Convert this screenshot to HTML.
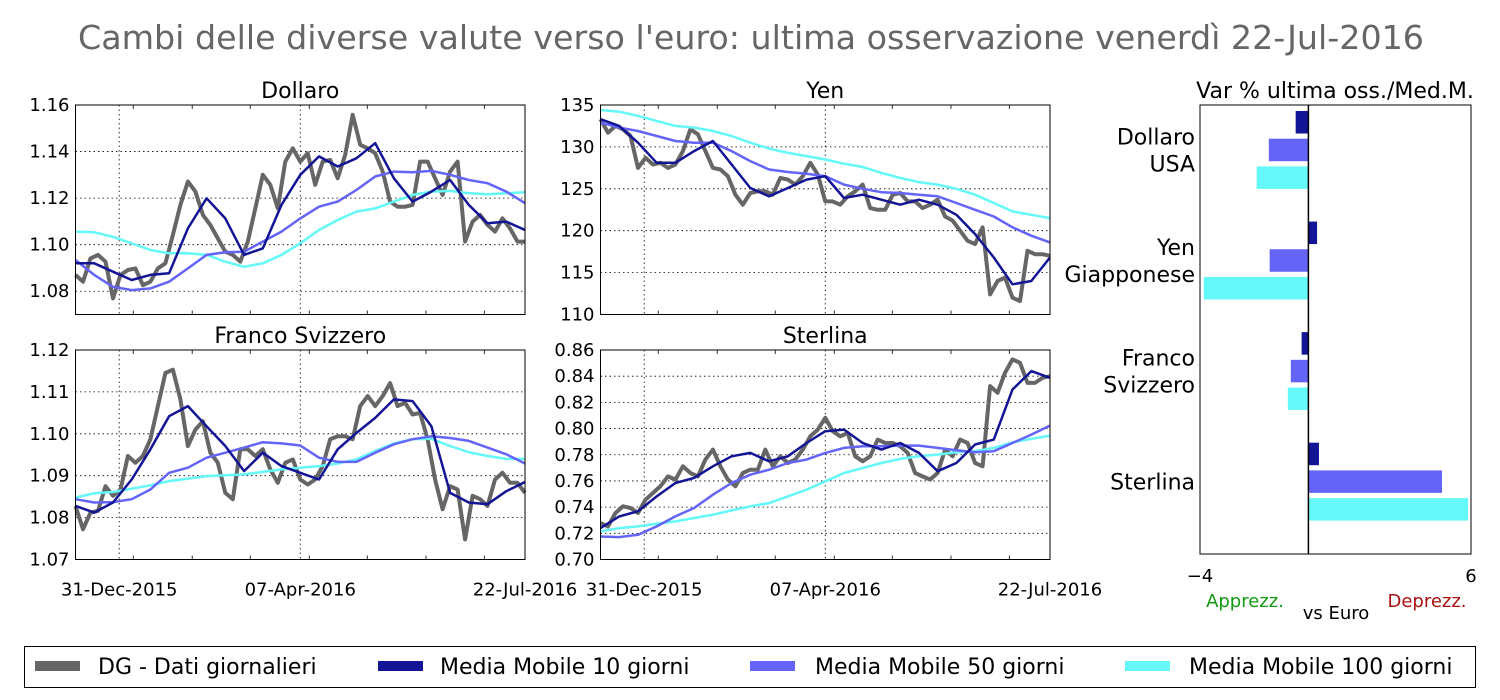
<!DOCTYPE html>
<html><head><meta charset="utf-8"><style>
html,body{margin:0;padding:0;background:#fff;}
svg{display:block;font-family:"DejaVu Sans","Liberation Sans",sans-serif;}
</style></head><body>
<svg id="chart" width="1500" height="700" viewBox="0 0 1500 700" xmlns="http://www.w3.org/2000/svg">
<text x="751" y="49" text-anchor="middle" font-size="33" fill="#666" textLength="1346" lengthAdjust="spacingAndGlyphs">Cambi delle diverse valute verso l'euro: ultima osservazione venerdì 22-Jul-2016</text>
<g id="panels"></g>
<g id="bars"></g>
<g>
<rect x="24.5" y="646.5" width="1451" height="41" fill="#fff" stroke="#000" stroke-width="1"/>
<rect x="35" y="661" width="45" height="10" fill="#666"/>
<text x="98" y="674" font-size="22">DG - Dati giornalieri</text>
<rect x="378" y="661" width="45" height="10" fill="#141496"/>
<text x="440" y="674" font-size="22">Media Mobile 10 giorni</text>
<rect x="750" y="661" width="45" height="10" fill="#6464f8"/>
<text x="815" y="674" font-size="22">Media Mobile 50 giorni</text>
<rect x="1125" y="661" width="45" height="10" fill="#64f8f8"/>
<text x="1189" y="674" font-size="22">Media Mobile 100 giorni</text>
</g>
</svg>
<script>
const NS="http://www.w3.org/2000/svg";
// ---- data ----
const usdDaily=[1.0870,1.0841,1.0941,1.0956,1.0927,1.0769,1.0870,1.0891,1.0898,1.0826,1.0841,1.0898,1.0920,1.1042,1.1171,1.1271,1.1228,1.1128,1.1085,1.1027,1.0970,1.0956,1.0927,1.1013,1.1156,1.1300,1.1257,1.1156,1.1357,1.1414,1.1357,1.1393,1.1257,1.1357,1.1364,1.1285,1.1386,1.1558,1.1429,1.1414,1.1393,1.1314,1.1185,1.1163,1.1163,1.1171,1.1357,1.1357,1.1285,1.1214,1.1314,1.1357,1.1013,1.1099,1.1128,1.1085,1.1056,1.1113,1.1070,1.1013,1.1013];
const usdMa10=[1.0920,1.0920,1.0884,1.0848,1.0870,1.0877,1.1070,1.1199,1.1113,1.0956,1.0984,1.1171,1.1300,1.1379,1.1336,1.1371,1.1436,1.1285,1.1185,1.1228,1.1278,1.1171,1.1092,1.1099,1.1063];
const usdMa50=[1.0934,1.0870,1.0819,1.0805,1.0812,1.0841,1.0898,1.0956,1.0967,1.0970,1.1013,1.1056,1.1113,1.1163,1.1185,1.1235,1.1293,1.1314,1.1311,1.1317,1.1300,1.1278,1.1264,1.1228,1.1178];
const usdMa100=[1.1056,1.1053,1.1034,1.1006,1.0977,1.0963,1.0963,1.0956,1.0927,1.0905,1.0920,1.0956,1.1006,1.1063,1.1106,1.1142,1.1156,1.1185,1.1214,1.1228,1.1231,1.1221,1.1217,1.1221,1.1225];
const jpyDaily=[133.3,131.7,132.5,132.1,131.3,127.5,128.7,127.9,128.1,127.5,127.9,129.5,132.1,131.5,129.5,127.5,127.3,126.5,124.3,123.1,124.5,124.7,124.7,124.3,126.3,126.1,125.5,126.5,128.1,126.7,123.5,123.5,123.1,124.1,124.7,125.5,122.7,122.5,122.5,124.3,124.5,123.5,123.5,122.7,123.1,123.7,121.7,121.2,120.0,118.8,118.4,120.4,112.4,114.0,114.4,112.0,111.6,117.6,117.2,117.2,117.0];
const jpyMa10=[133.3,132.5,130.5,128.1,128.1,129.5,130.7,127.9,125.1,124.1,125.1,126.1,126.5,123.9,124.3,123.7,123.1,123.7,123.1,121.9,119.6,116.8,113.6,114.0,116.8];
const jpyMa50=[132.9,132.3,131.9,131.3,130.7,130.5,130.5,129.5,128.3,127.3,127.0,126.8,126.5,125.5,125.0,124.6,124.5,124.3,124.1,123.3,122.5,121.7,120.4,119.4,118.6];
const jpyMa100=[134.4,134.2,133.7,133.1,132.5,132.3,131.9,131.3,130.5,129.8,129.3,128.9,128.5,128.0,127.6,126.9,126.3,125.8,125.5,125.0,124.3,123.3,122.3,121.9,121.5];
const chfDaily=[1.0828,1.0772,1.0812,1.0816,1.0875,1.0852,1.0867,1.0947,1.0931,1.0947,1.0987,1.1066,1.1145,1.1153,1.1082,1.0971,1.1010,1.1030,1.0955,1.0931,1.0859,1.0844,1.0963,1.0963,1.0947,1.0963,1.0915,1.0883,1.0931,1.0939,1.0891,1.0879,1.0891,1.0923,1.0987,1.0994,1.0994,1.0987,1.1066,1.1090,1.1066,1.1090,1.1121,1.1066,1.1074,1.1046,1.1050,1.0987,1.0891,1.0820,1.0875,1.0867,1.0748,1.0852,1.0844,1.0828,1.0891,1.0907,1.0883,1.0883,1.0859];
const chfMa10=[1.0828,1.0812,1.0836,1.0891,1.0963,1.1042,1.1066,1.1018,1.0971,1.0911,1.0955,1.0923,1.0907,1.0891,1.0963,1.1002,1.1038,1.1082,1.1078,1.1018,1.0859,1.0836,1.0832,1.0863,1.0885];
const chfMa50=[1.0844,1.0836,1.0837,1.0844,1.0867,1.0907,1.0919,1.0943,1.0955,1.0967,1.0980,1.0977,1.0972,1.0943,1.0933,1.0933,1.0955,1.0975,1.0987,1.0994,1.0990,1.0983,1.0967,1.0951,1.0929];
const chfMa100=[1.0848,1.0858,1.0861,1.0869,1.0877,1.0887,1.0893,1.0899,1.0901,1.0903,1.0909,1.0915,1.0919,1.0923,1.0929,1.0939,1.0959,1.0977,1.0987,1.0988,1.0971,1.0956,1.0947,1.0940,1.0940];
const gbpDaily=[0.7278,0.7253,0.7355,0.7406,0.7393,0.7355,0.7457,0.7508,0.7559,0.7635,0.7610,0.7712,0.7661,0.7635,0.7763,0.7839,0.7712,0.7610,0.7559,0.7661,0.7686,0.7686,0.7839,0.7712,0.7788,0.7737,0.7763,0.7839,0.7941,0.7992,0.8082,0.7980,0.7941,0.7967,0.7788,0.7750,0.7788,0.7916,0.7890,0.7890,0.7865,0.7814,0.7661,0.7635,0.7610,0.7661,0.7839,0.7788,0.7916,0.7890,0.7737,0.7712,0.8324,0.8273,0.8426,0.8528,0.8502,0.8349,0.8349,0.8388,0.8400];
const gbpMa10=[0.7240,0.7329,0.7368,0.7482,0.7584,0.7623,0.7712,0.7788,0.7814,0.7750,0.7788,0.7890,0.7980,0.7992,0.7890,0.7839,0.7890,0.7814,0.7674,0.7737,0.7878,0.7916,0.8298,0.8439,0.8388];
const gbpMa50=[0.7176,0.7171,0.7189,0.7253,0.7329,0.7393,0.7495,0.7584,0.7648,0.7686,0.7737,0.7763,0.7814,0.7852,0.7865,0.7865,0.7870,0.7870,0.7852,0.7834,0.7819,0.7827,0.7890,0.7954,0.8023];
const gbpMa100=[0.7215,0.7240,0.7253,0.7273,0.7291,0.7317,0.7342,0.7375,0.7406,0.7431,0.7482,0.7533,0.7597,0.7661,0.7699,0.7737,0.7768,0.7788,0.7801,0.7819,0.7827,0.7852,0.7895,0.7921,0.7946];
const usdTicks=["1.08","1.10","1.12","1.14","1.16"];
const jpyTicks=["110","115","120","125","130","135"];
const chfTicks=["1.07","1.08","1.09","1.10","1.11","1.12"];
const gbpTicks=["0.70","0.72","0.74","0.76","0.78","0.80","0.82","0.84","0.86"];
const dateLabels=["31-Dec-2015","07-Apr-2016","22-Jul-2016"];
const dateFrac=[0.0972,0.5,1.0];
const minorFrac=[0.1284,0.2596,0.3887,0.5200,0.6491,0.7797,0.9095];
const barCats=[["Dollaro","USA"],["Yen","Giapponese"],["Franco","Svizzero"],["Sterlina"]];
const barMa10=[-0.47,0.32,-0.25,0.39];
const barMa50=[-1.46,-1.43,-0.65,4.93];
const barMa100=[-1.91,-3.86,-0.76,5.89];
const COL={d:"#666666",m10:"#141496",m50:"#6464f8",m100:"#64f8f8"};

function mk(tag,attrs,parent){const e=document.createElementNS(NS,tag);for(const k in attrs)e.setAttribute(k,attrs[k]);parent.appendChild(e);return e;}
const panelsG=document.getElementById('panels');
function panel(name,title,L,T,W,H,ymin,ymax,ticks,series,showDates){
  const g=mk('g',{},panelsG);
  
  
  const yS=v=>T+H-(v-ymin)/(ymax-ymin)*H;
  ticks.forEach(t=>{const y=yS(parseFloat(t));
    const gl=mk('line',{x1:L,x2:L+W,y1:y,y2:y,stroke:'#000','stroke-width':0.8,'stroke-dasharray':'1.5,3'},g);
    
    
    const tl=mk('text',{x:L-6,y:y+6,'text-anchor':'end','font-size':18},g);tl.textContent=t;
    
    
  });
  dateFrac.forEach((f,i)=>{const x=L+f*W;
    if(f<1){const gl=mk('line',{x1:x,x2:x,y1:T,y2:T+H,stroke:'#000','stroke-width':0.8,'stroke-dasharray':'1.5,3'},g);
      
      }
    if(showDates){const tl=mk('text',{x:x,y:T+H+36,'text-anchor':'middle','font-size':18},g);tl.textContent=dateLabels[i];
      
      }
  });
  minorFrac.forEach(f=>{const x=L+f*W;
    mk('line',{x1:x,x2:x,y1:T+H,y2:T+H-4,stroke:'#000','stroke-width':0.8},g);
    mk('line',{x1:x,x2:x,y1:T,y2:T+4,stroke:'#000','stroke-width':0.8},g);
  });
  series.forEach(s=>{
    const n=s.data.length;
    const pts=s.data.map((v,i)=>(L+i/(n-1)*W).toFixed(1)+','+yS(v).toFixed(1)).join(' ');
    const pl=mk('polyline',{points:pts,fill:'none',stroke:s.c,'stroke-width':s.w,'stroke-linejoin':'round'},g);
    
    
  });
  const fr=mk('rect',{x:L,y:T,width:W,height:H,fill:'none',stroke:'#000','stroke-width':1},g);
  
  
  const tt=mk('text',{x:L+W/2,y:T-7,'text-anchor':'middle','font-size':22},g);tt.textContent=title;
  
  
}
function ser(d,a,b,c){return [{n:'daily',data:d,c:COL.d,w:4},{n:'ma100',data:c,c:COL.m100,w:2.5},{n:'ma50',data:b,c:COL.m50,w:2.5},{n:'ma10',data:a,c:COL.m10,w:2.5}];}
panel('dollaro','Dollaro',75.5,105,449.5,209.5,1.07,1.16,usdTicks,ser(usdDaily,usdMa10,usdMa50,usdMa100),false);
panel('yen','Yen',600.5,105,449.5,209.5,110,135,jpyTicks,ser(jpyDaily,jpyMa10,jpyMa50,jpyMa100),false);
panel('franco','Franco Svizzero',75.5,350,449.5,209.5,1.07,1.12,chfTicks,ser(chfDaily,chfMa10,chfMa50,chfMa100),true);
panel('sterlina','Sterlina',600.5,350,449.5,209.5,0.70,0.86,gbpTicks,ser(gbpDaily,gbpMa10,gbpMa50,gbpMa100),true);

// ---- bar chart ----
(function(){
  const g=document.getElementById('bars');
  
  
  const L=1200,R=1471,T=105,B=554,xmin=-4,xmax=6;
  const xS=v=>L+(v-xmin)/(xmax-xmin)*(R-L);
  const grpH=(B-T)/4, bh=22.5, step=27.7, off=6;
  const sets=[{d:barMa10,c:COL.m10,n:'ma10'},{d:barMa50,c:COL.m50,n:'ma50'},{d:barMa100,c:COL.m100,n:'ma100'}];
  barCats.forEach((cat,i)=>{
    sets.forEach((s,j)=>{
      const v=s.d[i],x0=xS(0),x1=xS(v);
      const r=mk('rect',{x:Math.min(x0,x1),y:T+off+i*grpH*0.985+j*step,width:Math.abs(x1-x0),height:bh,fill:s.c},g);
      
      
    });
    const cy=T+off+i*grpH*0.985+step+bh/2;
    cat.forEach((ln,k)=>{
      const t=mk('text',{x:1195,y:cy+8+(k-(cat.length-1)/2)*27,'text-anchor':'end','font-size':22},g);t.textContent=ln;
      
      
    });
  });
  const z=mk('line',{x1:xS(0),x2:xS(0),y1:T,y2:B,stroke:'#000','stroke-width':1.5},g);
  
  
  const fr=mk('rect',{x:L,y:T,width:R-L,height:B-T,fill:'none',stroke:'#000','stroke-width':1},g);
  
  
  [xmin,xmax].forEach(v=>{const t=mk('text',{x:xS(v),y:582,'text-anchor':'middle','font-size':18},g);t.textContent=v<0?'\u2212'+Math.abs(v):String(v);
    
    });
  const tt=mk('text',{x:1335,y:98,'text-anchor':'middle','font-size':22},g);tt.textContent='Var % ultima oss./Med.M.';
  
  
  const a=mk('text',{x:1245,y:607,'text-anchor':'middle','font-size':18,fill:'#119911'},g);a.textContent='Apprezz.';
  
  
  const d=mk('text',{x:1427,y:607,'text-anchor':'middle','font-size':18,fill:'#aa1111'},g);d.textContent='Deprezz.';
  
  
  const ve=mk('text',{x:1336,y:619,'text-anchor':'middle','font-size':18},g);ve.textContent='vs Euro';
  
  
})();
</script>
</body></html>
